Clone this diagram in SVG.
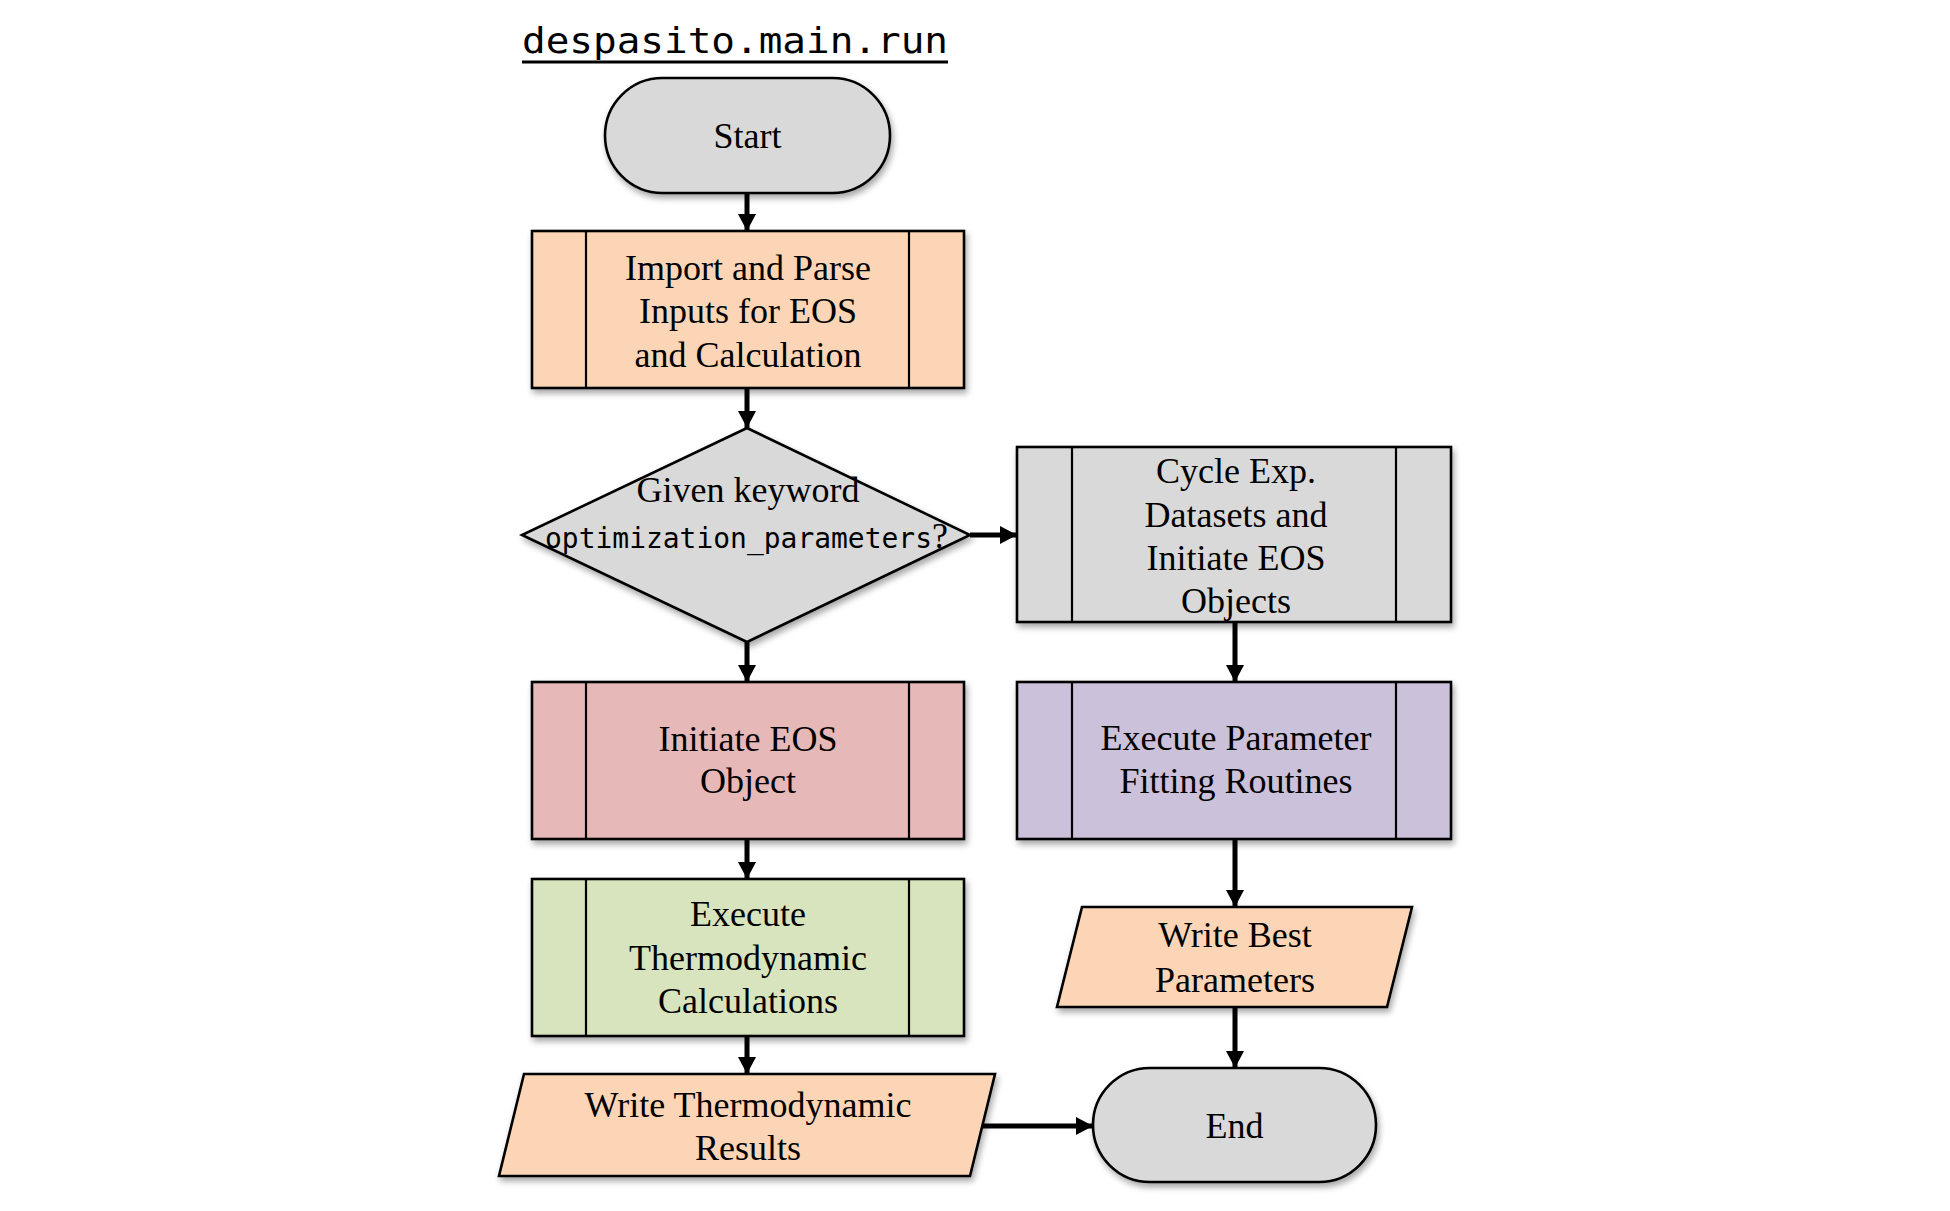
<svg xmlns="http://www.w3.org/2000/svg" width="1950" height="1211" viewBox="0 0 1950 1211">
<style>
.shape{stroke:#000;stroke-width:2.6;filter:url(#sh)}
.inner{stroke:#000;stroke-width:2.2;fill:none}
.t{font-family:"Liberation Serif","Times New Roman",serif;font-size:36px;fill:#000;text-anchor:middle}
.m{font-family:"DejaVu Sans Mono","Liberation Mono",monospace;fill:#000}
.conn{stroke:#000;stroke-width:5;fill:none;marker-end:url(#ah)}
.gray{fill:#d9d9d9}.peach{fill:#fbd5b5}.pink{fill:#e6b9b8}.green{fill:#d7e4bd}.purple{fill:#ccc1da}
</style>
<defs>
<filter id="sh" x="-10%" y="-10%" width="125%" height="130%">
<feDropShadow dx="2" dy="4" stdDeviation="3" flood-color="#000" flood-opacity="0.35"/>
</filter>
<marker id="ah" markerWidth="19" markerHeight="19" viewBox="0 0 19 19" refX="17" refY="9.5" orient="auto" markerUnits="userSpaceOnUse">
<path d="M0,0.5 L17,9.5 L0,18.5 Z" fill="#000"/>
</marker>
</defs>
<rect width="1950" height="1211" fill="#fff"/>
<g id="title">
<text class="m" x="522" y="53" font-size="35.5" textLength="426" lengthAdjust="spacingAndGlyphs">despasito.main.run</text>
<line x1="522" y1="62" x2="948" y2="62" stroke="#000" stroke-width="3"/>
</g>
<g id="connectors">
<line class="conn" x1="747" y1="193" x2="747" y2="231"/>
<line class="conn" x1="747" y1="388" x2="747" y2="428"/>
<line class="conn" x1="970" y1="535" x2="1017" y2="535"/>
<line class="conn" x1="747" y1="642" x2="747" y2="682"/>
<line class="conn" x1="747" y1="839" x2="747" y2="879"/>
<line class="conn" x1="747" y1="1036" x2="747" y2="1074"/>
<line class="conn" x1="1235" y1="622" x2="1235" y2="682"/>
<line class="conn" x1="1235" y1="839" x2="1235" y2="907"/>
<line class="conn" x1="1235" y1="1007" x2="1235" y2="1068"/>
<line class="conn" x1="982" y1="1126" x2="1093" y2="1126"/>
</g>
<g id="start">
<rect class="shape gray" x="605" y="78" width="285" height="115" rx="57.5"/>
<text class="t" x="747.5" y="148">Start</text>
</g>
<g id="import">
<rect class="shape peach" x="532" y="231" width="432" height="157"/>
<line class="inner" x1="586" y1="231" x2="586" y2="388"/>
<line class="inner" x1="909" y1="231" x2="909" y2="388"/>
<text class="t" x="748" y="280">Import and Parse</text>
<text class="t" x="748" y="323">Inputs for EOS</text>
<text class="t" x="748" y="367">and Calculation</text>
</g>
<g id="decision">
<polygon class="shape gray" points="747,428 970,535 747,642 522,535"/>
<text class="t" x="748" y="502">Given keyword</text>
<text x="545" y="548"><tspan class="m" font-size="28" textLength="387" lengthAdjust="spacingAndGlyphs">optimization_parameters</tspan><tspan font-family="Liberation Serif,serif" font-size="36">?</tspan></text>
</g>
<g id="cycle">
<rect class="shape gray" x="1017" y="447" width="434" height="175"/>
<line class="inner" x1="1072" y1="447" x2="1072" y2="622"/>
<line class="inner" x1="1396" y1="447" x2="1396" y2="622"/>
<text class="t" x="1236" y="483">Cycle Exp.</text>
<text class="t" x="1236" y="527">Datasets and</text>
<text class="t" x="1236" y="570">Initiate EOS</text>
<text class="t" x="1236" y="613">Objects</text>
</g>
<g id="initiate">
<rect class="shape pink" x="532" y="682" width="432" height="157"/>
<line class="inner" x1="586" y1="682" x2="586" y2="839"/>
<line class="inner" x1="909" y1="682" x2="909" y2="839"/>
<text class="t" x="748" y="751">Initiate EOS</text>
<text class="t" x="748" y="793">Object</text>
</g>
<g id="fitting">
<rect class="shape purple" x="1017" y="682" width="434" height="157"/>
<line class="inner" x1="1072" y1="682" x2="1072" y2="839"/>
<line class="inner" x1="1396" y1="682" x2="1396" y2="839"/>
<text class="t" x="1236" y="750">Execute Parameter</text>
<text class="t" x="1236" y="793">Fitting Routines</text>
</g>
<g id="thermo">
<rect class="shape green" x="532" y="879" width="432" height="157"/>
<line class="inner" x1="586" y1="879" x2="586" y2="1036"/>
<line class="inner" x1="909" y1="879" x2="909" y2="1036"/>
<text class="t" x="748" y="926">Execute</text>
<text class="t" x="748" y="970">Thermodynamic</text>
<text class="t" x="748" y="1013">Calculations</text>
</g>
<g id="writebest">
<polygon class="shape peach" points="1082,907 1412,907 1387,1007 1057,1007"/>
<text class="t" x="1235" y="947">Write Best</text>
<text class="t" x="1235" y="992">Parameters</text>
</g>
<g id="writethermo">
<polygon class="shape peach" points="524,1074 995,1074 970,1176 499,1176"/>
<text class="t" x="748" y="1117">Write Thermodynamic</text>
<text class="t" x="748" y="1160">Results</text>
</g>
<g id="end">
<rect class="shape gray" x="1093" y="1068" width="283" height="114" rx="57"/>
<text class="t" x="1234.5" y="1138">End</text>
</g>
</svg>
